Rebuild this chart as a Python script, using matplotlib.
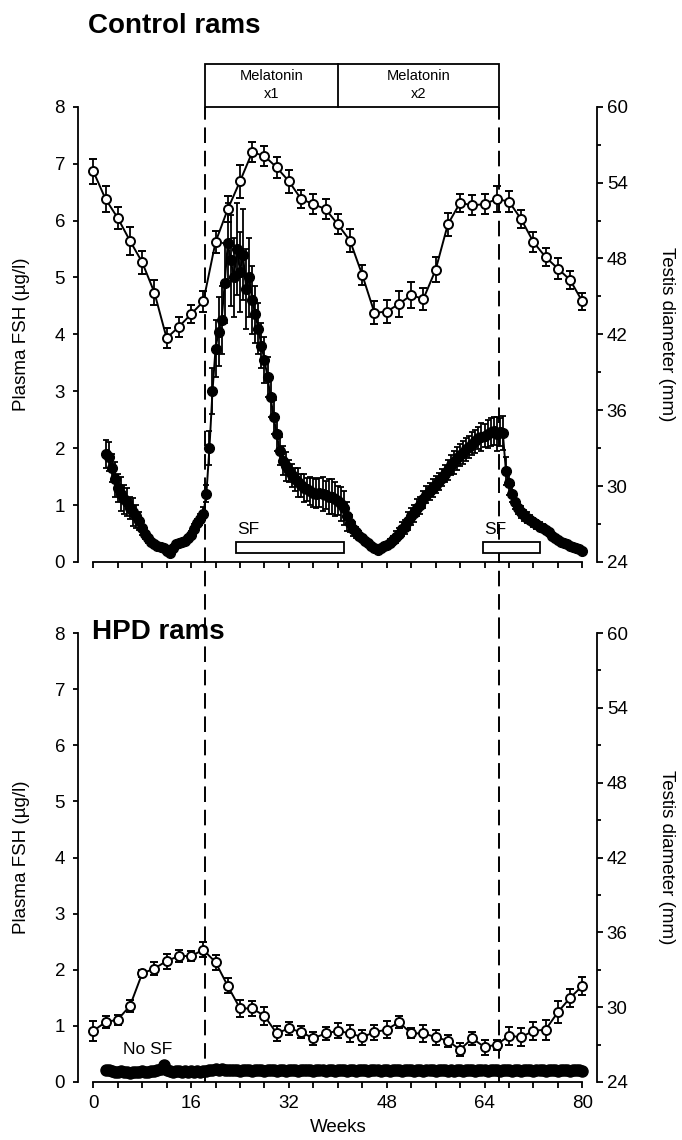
import numpy as np
import matplotlib
matplotlib.use("Agg")
import matplotlib.pyplot as plt
from matplotlib.patches import Rectangle

plt.rcParams['font.family'] = ['Liberation Sans', 'DejaVu Sans']

# ---------------- data ----------------
fsh_weeks = np.arange(2, 80.01, 0.5)          # sampling times (weeks)
testis_weeks = np.arange(0, 80.01, 2)          # testis measured every 2 weeks

control_fsh = [
    1.90, 1.85, 1.65, 1.45, 1.30, 1.20, 1.10, 1.05, 0.95, 0.88,
    0.80, 0.72, 0.60, 0.50, 0.42, 0.36, 0.31, 0.28, 0.26, 0.24,
    0.20, 0.15, 0.25, 0.32, 0.34, 0.35, 0.37, 0.42, 0.48, 0.58,
    0.68, 0.75, 0.85, 1.20, 2.00, 3.00, 3.75, 4.05, 4.25, 4.90,
    5.60, 5.30, 5.00, 5.50, 5.10, 5.40, 4.80, 5.00, 4.60, 4.35,
    4.10, 3.80, 3.55, 3.25, 2.90, 2.55, 2.25, 1.95, 1.78, 1.68,
    1.60, 1.52, 1.45, 1.40, 1.35, 1.30, 1.28, 1.25, 1.22, 1.20,
    1.22, 1.20, 1.18, 1.15, 1.15, 1.10, 1.08, 1.02, 0.95, 0.80,
    0.68, 0.58, 0.52, 0.46, 0.42, 0.37, 0.33, 0.28, 0.24, 0.21,
    0.24, 0.28, 0.30, 0.34, 0.38, 0.44, 0.50, 0.58, 0.62, 0.72,
    0.80, 0.86, 0.95, 1.00, 1.10, 1.18, 1.24, 1.30, 1.36, 1.42,
    1.48, 1.55, 1.62, 1.70, 1.75, 1.82, 1.88, 1.92, 1.98, 2.02,
    2.08, 2.12, 2.18, 2.20, 2.22, 2.25, 2.28, 2.30, 2.25, 2.28,
    2.26, 1.60, 1.38, 1.20, 1.05, 0.95, 0.88, 0.82, 0.78, 0.74,
    0.70, 0.66, 0.62, 0.60, 0.56, 0.52, 0.46, 0.42, 0.39, 0.36,
    0.33, 0.31, 0.28, 0.26, 0.24, 0.22, 0.20,
]
control_fsh_err = [
    0.25, 0.25, 0.25, 0.30, 0.25, 0.30, 0.25, 0.25, 0.20, 0.25,
    0.20, 0.15, 0.12, 0.10, 0.08, 0.06, 0.05, 0.05, 0.05, 0.04,
    0.04, 0.04, 0.04, 0.04, 0.04, 0.05, 0.05, 0.06, 0.06, 0.08,
    0.08, 0.10, 0.12, 0.15, 0.30, 0.40, 0.50, 0.60, 0.60, 0.70,
    0.70, 0.80, 0.70, 0.80, 0.70, 0.80, 0.70, 0.70, 0.60, 0.50,
    0.45, 0.40, 0.40, 0.35, 0.35, 0.30, 0.30, 0.25, 0.25, 0.25,
    0.20, 0.20, 0.20, 0.25, 0.20, 0.25, 0.20, 0.25, 0.25, 0.25,
    0.25, 0.30, 0.25, 0.30, 0.30, 0.30, 0.25, 0.30, 0.30, 0.25,
    0.15, 0.12, 0.10, 0.08, 0.06, 0.05, 0.05, 0.04, 0.04, 0.04,
    0.04, 0.05, 0.05, 0.06, 0.08, 0.10, 0.10, 0.12, 0.12, 0.15,
    0.15, 0.15, 0.15, 0.15, 0.15, 0.15, 0.15, 0.15, 0.15, 0.15,
    0.15, 0.15, 0.18, 0.18, 0.20, 0.20, 0.20, 0.20, 0.20, 0.20,
    0.20, 0.20, 0.20, 0.25, 0.20, 0.25, 0.25, 0.25, 0.30, 0.25,
    0.30, 0.25, 0.20, 0.15, 0.12, 0.10, 0.10, 0.10, 0.10, 0.08,
    0.08, 0.08, 0.08, 0.06, 0.06, 0.06, 0.05, 0.05, 0.05, 0.04,
    0.04, 0.04, 0.04, 0.04, 0.04, 0.04, 0.04,
]
control_testis = [
    54.9, 52.7, 51.2, 49.4, 47.7, 45.3, 41.7, 42.6, 43.6, 44.6,
    49.3, 51.9, 54.1, 56.4, 56.1, 55.2, 54.1, 52.7, 52.3, 51.9,
    50.7, 49.4, 46.7, 43.7, 43.8, 44.4, 45.1, 44.8, 47.1, 50.7,
    52.4, 52.2, 52.3, 52.7, 52.5, 51.1, 49.3, 48.1, 47.2, 46.3,
    44.6,
]
control_testis_err = [
    1.0, 1.0, 0.9, 1.1, 0.9, 1.0, 0.8, 0.8, 0.7, 0.8,
    0.9, 1.0, 1.3, 0.8, 0.8, 0.8, 0.9, 0.7, 0.8, 0.8,
    0.8, 0.9, 0.8, 0.9, 0.9, 1.0, 1.0, 0.9, 1.0, 0.9,
    0.7, 0.8, 0.8, 1.0, 0.8, 0.7, 0.8, 0.7, 0.8, 0.7,
    0.7,
]
hpd_fsh = [
    0.22, 0.21, 0.19, 0.18, 0.17, 0.19, 0.17, 0.18, 0.16, 0.18,
    0.17, 0.18, 0.19, 0.17, 0.18, 0.20, 0.19, 0.21, 0.24, 0.30,
    0.22, 0.19, 0.18, 0.20, 0.19, 0.18, 0.19, 0.18, 0.19, 0.18,
    0.19, 0.18, 0.19, 0.20, 0.21, 0.22, 0.23, 0.22, 0.23, 0.22,
    0.21, 0.22, 0.21, 0.22, 0.20, 0.21, 0.22, 0.21, 0.20, 0.21,
    0.22, 0.21, 0.20, 0.21, 0.22, 0.21, 0.20, 0.21, 0.22, 0.20,
    0.21, 0.22, 0.21, 0.20, 0.21, 0.22, 0.21, 0.22, 0.20, 0.21,
    0.22, 0.21, 0.20, 0.22, 0.21, 0.20, 0.21, 0.22, 0.21, 0.20,
    0.21, 0.22, 0.20, 0.21, 0.22, 0.21, 0.20, 0.21, 0.22, 0.21,
    0.20, 0.22, 0.21, 0.20, 0.21, 0.22, 0.21, 0.20, 0.22, 0.21,
    0.21, 0.20, 0.22, 0.21, 0.20, 0.21, 0.22, 0.21, 0.20, 0.21,
    0.22, 0.21, 0.20, 0.21, 0.20, 0.22, 0.21, 0.20, 0.21, 0.22,
    0.21, 0.20, 0.21, 0.22, 0.21, 0.20, 0.21, 0.22, 0.21, 0.20,
    0.21, 0.22, 0.21, 0.20, 0.22, 0.21, 0.20, 0.21, 0.22, 0.21,
    0.20, 0.21, 0.22, 0.21, 0.20, 0.21, 0.22, 0.21, 0.20, 0.21,
    0.22, 0.21, 0.20, 0.21, 0.22, 0.21, 0.20,
]
hpd_testis = [
    28.1, 28.8, 29.0, 30.1, 32.7, 33.1, 33.7, 34.1, 34.1, 34.6,
    33.6, 31.7, 29.9, 29.9, 29.3, 27.9, 28.3, 28.0, 27.5, 27.9,
    28.1, 27.9, 27.6, 28.0, 28.2, 28.8, 27.9, 27.9, 27.6, 27.3,
    26.6, 27.5, 26.8, 27.0, 27.7, 27.6, 28.1, 28.2, 29.6, 30.75,
    31.7,
]
hpd_testis_err = [
    0.8, 0.5, 0.4, 0.5, 0.3, 0.5, 0.6, 0.5, 0.4, 0.6,
    0.6, 0.6, 0.7, 0.6, 0.7, 0.6, 0.5, 0.5, 0.5, 0.5,
    0.6, 0.7, 0.6, 0.6, 0.7, 0.5, 0.4, 0.7, 0.6, 0.5,
    0.5, 0.5, 0.6, 0.4, 0.7, 0.7, 0.7, 0.8, 0.9, 0.7,
    0.7,
]
melatonin_events = [18.2, 40.1, 66.3]          # start, switch x1->x2, end
melatonin_labels = ["Melatonin\nx1", "Melatonin\nx2"]
sf_periods = [(23.4, 41.0), (63.8, 73.1)]
fsh_ticks = list(range(0, 9))
testis_ticks = list(range(24, 61, 6))
week_labels = [0, 16, 32, 48, 64, 80]

# ---------------- figure ----------------
W, H = 682, 1140
fig = plt.figure(figsize=(W / 100, H / 100), dpi=100)

def fx(px):
    return px / W

def fy(py):
    return 1 - py / H

LW = 1.3
FS = 13.5
panels = [
    dict(top=106.7, bot=562.0),
    dict(top=633.0, bot=1082.0),
]
axes = []
for p in panels:
    ax = fig.add_axes([fx(78), fy(p['bot']), fx(597 - 78), (p['bot'] - p['top']) / H])
    ax.patch.set_alpha(0)
    ax.set_xlim(-2.5, 82.4)
    ax.set_ylim(0, 8)
    for s in ['top', 'right']:
        ax.spines[s].set_visible(False)
    ax.spines['left'].set_linewidth(LW)
    ax.spines['bottom'].set_linewidth(LW)
    ax.spines['bottom'].set_bounds(0, 80)
    ax.set_yticks(fsh_ticks)
    ax.tick_params(axis='y', direction='out', length=3.3, width=LW, labelsize=FS, pad=6)
    tw = ax.twinx()
    tw.set_ylim(24, 60)
    for s in ['top', 'left', 'bottom']:
        tw.spines[s].set_visible(False)
    tw.spines['right'].set_linewidth(LW)
    tw.set_yticks(testis_ticks)
    tw.set_yticks(list(range(27, 60, 6)), minor=True)
    tw.tick_params(axis='y', which='major', direction='out', length=4, width=LW,
                   labelsize=FS, pad=3)
    tw.tick_params(axis='y', which='minor', direction='out', length=3, width=LW)
    axes.append((ax, tw))

(ax1, tw1), (ax2, tw2) = axes

# x ticks
ax1.set_xticks(np.arange(0, 81, 4))
ax1.tick_params(axis='x', direction='out', length=4, width=LW, labelbottom=False)
ax2.set_xticks(week_labels)
ax2.set_xticks(np.arange(0, 81, 4), minor=True)
ax2.tick_params(axis='x', which='both', direction='out', length=4, width=LW,
                labelsize=FS, pad=5)

# dashed event lines (continuous through both panels)
gap = (633.0 - 562.0) / (562.0 - 106.7)
for x in (melatonin_events[0], melatonin_events[2]):
    ax1.axvline(x, ymin=-gap, ymax=1, color='black', lw=1.4,
                dashes=(8, 4), clip_on=False, zorder=1)
    ax2.axvline(x, ymin=0, ymax=1.0, color='black', lw=1.4,
                dashes=(8, 4), clip_on=False, zorder=1)

# ---- top panel: control rams ----
ax1.errorbar(fsh_weeks, control_fsh, yerr=control_fsh_err, fmt='o-', color='black',
             ms=7, lw=1.4, elinewidth=1.3, capsize=2.5, capthick=1.3, zorder=3)
tw1.errorbar(testis_weeks, control_testis, yerr=control_testis_err, fmt='o-',
             color='black', mfc='white', mec='black', mew=1.4, ms=6.5, lw=1.4,
             elinewidth=1.3, capsize=2.8, capthick=1.3, zorder=4)

for (a, b) in sf_periods:
    ax1.add_patch(Rectangle((a, 0.15), b - a, 0.21, facecolor='white',
                            edgecolor='black', lw=1.3, zorder=6))
    ax1.text(a + 0.2, 0.50, "SF", fontsize=12.5, ha='left', va='baseline', zorder=6)

# melatonin box
x0, xm, x1 = melatonin_events
ax1.add_patch(Rectangle((x0, 8.0), x1 - x0, 0.75, facecolor='white', edgecolor='black',
                        lw=1.3, clip_on=False, zorder=6))
ax1.plot([xm, xm], [8.0, 8.75], color='black', lw=1.3, clip_on=False, zorder=7)
for (a, b), lab in zip([(x0, xm), (xm, x1)], melatonin_labels):
    ax1.text((a + b) / 2, 8.375, lab, fontsize=10.5, ha='center', va='center',
             linespacing=1.35, clip_on=False, zorder=8)

# ---- bottom panel: HPD rams ----
ax2.plot(fsh_weeks, hpd_fsh, 'o-', color='black', ms=8, lw=1.4, zorder=3)
tw2.errorbar(testis_weeks, hpd_testis, yerr=hpd_testis_err, fmt='o-',
             color='black', mfc='white', mec='black', mew=1.4, ms=6.5, lw=1.4,
             elinewidth=1.3, capsize=2.8, capthick=1.3, zorder=4)
ax2.text(4.9, 0.50, "No SF", fontsize=12.5, ha='left', va='baseline')

# ---- titles and axis labels ----
fig.text(fx(88), fy(33), "Control rams", fontsize=20, fontweight='bold',
         ha='left', va='baseline')
fig.text(fx(92), fy(639), "HPD rams", fontsize=20, fontweight='bold',
         ha='left', va='baseline')
for p in panels:
    yc = fy((p['top'] + p['bot']) / 2)
    fig.text(fx(22), yc, "Plasma FSH (µg/l)", fontsize=FS, rotation=90,
             ha='center', va='center')
    fig.text(fx(667), yc, "Testis diameter (mm)", fontsize=FS, rotation=270,
             ha='center', va='center')
fig.text(fx(338), fy(1128), "Weeks", fontsize=FS, ha='center', va='center')

fig.savefig("out.png", dpi=100)
